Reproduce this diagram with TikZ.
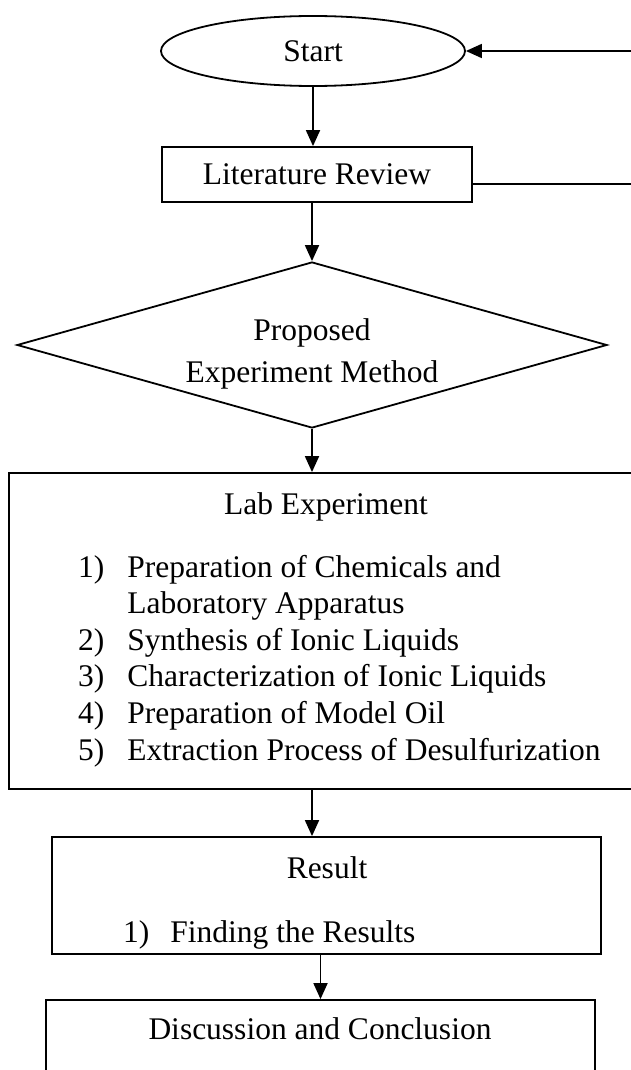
\documentclass[tikz,border=0pt]{standalone}
\usepackage{fontspec}
\setmainfont{Liberation Serif}
\usetikzlibrary{shapes.geometric, arrows.meta}

\begin{document}
\begin{tikzpicture}[
  x=1pt, y=-1pt,
  every node/.style={
    font=\fontsize{31.5}{36.6}\selectfont, inner sep=0pt,
  },
  box/.style={
    draw, rectangle, line width=1.8pt
  },
  arrow/.style={
    line width=1.8pt, -{Triangle[length=16pt, width=14pt]}
  }
  ]
  \useasboundingbox (0,0) rectangle (631,1070);

  \node[draw, ellipse, line width=1.8pt, minimum width=304pt, minimum height=70pt] (start) at (313,51) {Start};
  \node[box, minimum width=310pt, minimum height=55pt] (lit) at (317,174.5) {Literature Review};
  \node[draw, diamond, aspect=3.55, line width=1.8pt, minimum width=590pt, minimum height=166pt] (method) at (312,345) {};
  \node[align=center] (methodtxt) at (312,354) {Proposed\\[5pt]Experiment Method};

  % lab box
  \node[box, minimum width=634pt, minimum height=316pt] (lab) at (326,631) {};
  \node[anchor=base] (labtitle) at (326,514) {Lab Experiment};
  \node[anchor=base west] (labitems) at (78,577) {%
    \begin{tabular}[t]{@{}l@{\hspace{23pt}}l@{}}
      1) & Preparation of Chemicals and\\
         & Laboratory Apparatus\\
      2) & Synthesis of Ionic Liquids\\
      3) & Characterization of Ionic Liquids\\
      4) & Preparation of Model Oil\\
      5) & Extraction Process of Desulfurization
    \end{tabular}};

  % result box
  \node[box, minimum width=549pt, minimum height=117pt] (result) at (326.5,895.5) {};
  \node[anchor=base] (resulttitle) at (327,878) {Result};
  \node[anchor=base west] (resultitems) at (123,942) {%
    \begin{tabular}[t]{@{}l@{\hspace{21pt}}l@{}}
      1) & Finding the Results
    \end{tabular}};

  \node[box, minimum width=549pt, minimum height=80pt] (disc) at (320.5,1040) {};
  \node[anchor=base] (disctxt) at (320,1039) {Discussion and Conclusion};

  \coordinate (backin) at (640,51);
  \coordinate (backout) at (640,184);

  \draw[arrow] (start.south) -- (start.south |- lit.north);
  \draw[arrow] (lit.south -| method.north) -- (method.north);
  \draw[arrow] (method.south) -- (method.south |- lab.north);
  \draw[arrow] (method.south |- lab.south) -- (method.south |- result.north);
  \draw[arrow] (disc.north |- result.south) -- (disc.north);
  \draw[line width=1.8pt] (lit.east |- backout) -- (backout);
  \draw[arrow] (backin) -- (start.east);
\end{tikzpicture}
\end{document}
